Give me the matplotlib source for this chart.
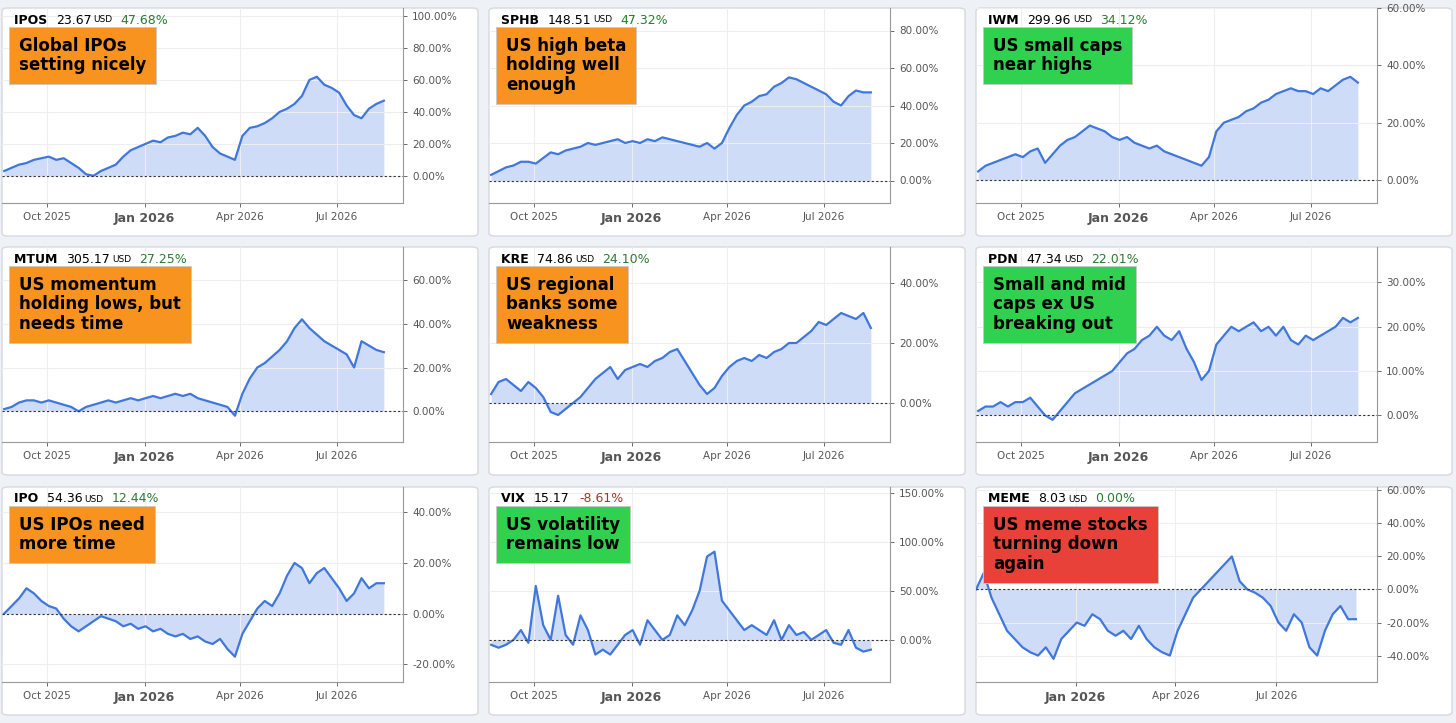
import numpy as np
import pandas as pd
import matplotlib
matplotlib.use("Agg")
import matplotlib.pyplot as plt
import matplotlib.dates as mdates
from matplotlib.patches import FancyBboxPatch

W, H = 1456, 723

tickers = ["IPOS", "SPHB", "IWM", "MTUM", "KRE", "PDN", "IPO", "VIX", "MEME"]
prices = ["23.67", "148.51", "299.96", "305.17", "74.86", "47.34", "54.36", "15.17", "8.03"]
units = ["USD", "USD", "USD", "USD", "USD", "USD", "USD", "", "USD"]
changes = ["47.68%", "47.32%", "34.12%", "27.25%", "24.10%", "22.01%", "12.44%", "-8.61%", "0.00%"]
notes = ["Global IPOs\nsetting nicely", "US high beta\nholding well\nenough", "US small caps\nnear highs",
         "US momentum\nholding lows, but\nneeds time", "US regional\nbanks some\nweakness",
         "Small and mid\ncaps ex US\nbreaking out", "US IPOs need\nmore time", "US volatility\nremains low",
         "US meme stocks\nturning down\nagain"]
note_colors = ["#f7931e", "#f7931e", "#2fd14f", "#f7931e", "#f7931e", "#2fd14f", "#f7931e", "#2fd14f", "#e8413a"]
start_dates = ["2025-08-22"] * 8 + ["2025-10-03"]

series = [
    [3,5, 7,8,10,11, 12,10,11,8,5, 1,0,3,5, 7,12,16,18, 20,22,21,24,25, 27,26,30,25, 18,14,12,10,
     25,30,31,33, 36,40,42,45,50, 60,62,57,55, 52,44,38,36, 42,45,47],
    [3,5, 7,8,10,10, 9,12,15,14,16, 17,18,20,19, 20,21,22,20, 21,20,22,21,23, 22,21,20,19, 18,20,17,20,
     28,35,40,42, 45,46,50,52,55, 54,52,50,48, 46,42,40,45, 48,47,47],
    [3,5, 6,7,8,9, 8,10,11,6,9, 12,14,15,17, 19,18,17,15, 14,15,13,12,11, 12,10,9,8, 7,6,5,8,
     17,20,21,22, 24,25,27,28,30, 31,32,31,31, 30,32,31,33, 35,36,34],
    [1,2, 4,5,5,4, 5,4,3,2,0, 2,3,4,5, 4,5,6,5, 6,7,6,7,8, 7,8,6,5, 4,3,2,-2,
     8,15,20,22, 25,28,32,38,42, 38,35,32,30, 28,26,20,32, 30,28,27],
    [3,7, 8,6,4,7, 5,2,-3,-4,-2, 0,2,5,8, 10,12,8,11, 12,13,12,14,15, 17,18,14,10, 6,3,5,9,
     12,14,15,14, 16,15,17,18,20, 20,22,24,27, 26,28,30,29, 28,30,25],
    [1,2, 2,3,2,3, 3,4,2,0,-1, 1,3,5,6, 7,8,9,10, 12,14,15,17,18, 20,18,17,19, 15,12,8,10,
     16,18,20,19, 20,21,19,20,18, 20,17,16,18, 17,18,19,20, 22,21,22],
    [0,3, 6,10,8,5, 3,2,-2,-5,-7, -5,-3,-1,-2, -3,-5,-4,-6, -5,-7,-6,-8,-9, -8,-10,-9,-11, -12,-10,-14,-17,
     -8,-3,2,5, 3,8,15,20,18, 12,16,18,14, 10,5,8,14, 10,12,12],
    [-5,-8, -5,0,10,-3, 55,15,0,45,5, -5,25,10,-15, -10,-15,-5,5, 10,-5,20,10,0, 5,25,15,30, 50,85,90,40,
     30,20,10,15, 10,5,20,0,15, 5,8,0,5, 10,-3,-5,10, -8,-12,-10],
    [0,10,-5,-15,-25, -30,-35,-38,-40, -35,-42,-30,-25, -20,-22,-15,-18,-25, -28,-25,-30,-22, -30,-35,-38,-40,
     -25,-15,-5,0, 5,10,15,20,5, 0,-2,-5,-10, -20,-25,-15,-20, -35,-40,-25,-15, -10,-18,-18],
]
ylims = [(-17, 105), (-12, 92), (-8, 60), (-14, 75), (-13, 52), (-6, 38), (-27, 50), (-43, 156), (-56, 62)]
ysteps = [20, 20, 20, 20, 20, 10, 20, 50, 20]

fig = plt.figure(figsize=(W / 100, H / 100), dpi=100)
fig.patch.set_facecolor("#eef1f5")

col_x = [2, 489, 976]
row_y = [8, 247, 487]
pw, ph = 476, 228


def pct(v, p):
    return f"{abs(v) if abs(v) < 1e-9 else v:.2f}%"


for i in range(9):
    x0, y0 = col_x[i % 3], row_y[i // 3]
    fig.patches.append(FancyBboxPatch((x0 / W, 1 - (y0 + ph) / H), pw / W, ph / H,
                                      boxstyle="round,pad=0,rounding_size=0.004", transform=fig.transFigure,
                                      facecolor="white", edgecolor="#d5d9de", lw=1, zorder=-5))
    ax = fig.add_axes([x0 / W, 1 - (y0 + 195) / H, 401 / W, 195 / H])
    ax.set_facecolor("none")
    ax.set_zorder(1)
    dates = pd.date_range(start_dates[i], periods=len(series[i]), freq="7D")
    vals = np.array(series[i], dtype=float)
    ax.fill_between(dates, vals, 0, color="#cfdcf8", lw=0)
    ax.plot(dates, vals, color="#3f77dd", lw=1.6)
    ax.axhline(0, color="#333333", lw=0.8, ls=(0, (2, 2)))
    if i == 8:
        ax.set_xlim(pd.Timestamp("2025-10-03"), pd.Timestamp("2026-09-30"))
    else:
        ax.set_xlim(pd.Timestamp("2025-08-20"), pd.Timestamp("2026-09-01"))
    lo, hi = ylims[i]
    ax.set_ylim(lo, hi)
    st = ysteps[i]
    ax.set_yticks(np.arange(np.ceil(lo / st) * st, hi + 0.1, st))
    ax.yaxis.set_major_formatter(plt.FuncFormatter(pct))
    ax.yaxis.tick_right()
    ax.xaxis.set_major_locator(mdates.MonthLocator(bymonth=[1, 4, 7, 10]))
    ax.xaxis.set_major_formatter(mdates.DateFormatter("%b %Y"))
    ax.tick_params(labelsize=7.5, colors="#555555", length=3, width=0.6)
    fig.canvas.draw()
    for lab in ax.get_xticklabels():
        if lab.get_text().startswith("Jan"):
            lab.set_fontweight("bold")
            lab.set_fontsize(9)
    ax.grid(True, color="#eeeeee", lw=0.8)
    for s in ["top", "left"]:
        ax.spines[s].set_visible(False)
    for s in ["right", "bottom"]:
        ax.spines[s].set_color("#999999")
        ax.spines[s].set_linewidth(0.8)

    # header
    r = fig.canvas.get_renderer()
    fx, fy = (x0 + 12) / W, 1 - (y0 + 12) / H
    t = fig.text(fx, fy, tickers[i] + "  ", fontsize=9, fontweight="bold", va="center")
    bb = t.get_window_extent(r)
    t2 = fig.text(bb.x1 / W, fy, prices[i], fontsize=9, va="center")
    bb = t2.get_window_extent(r)
    xx = bb.x1 / W + 2 / W
    if units[i]:
        t3 = fig.text(xx, fy, units[i], fontsize=6.5, va="center")
        xx = t3.get_window_extent(r).x1 / W
    ccol = "#a3342c" if changes[i].startswith("-") else "#2b7a32"
    fig.text(xx + 8 / W, fy, changes[i], fontsize=9, color=ccol, va="center")

    # annotation box
    fig.text((x0 + 17) / W, 1 - (y0 + 29) / H, notes[i], fontsize=12, fontweight="bold", va="top",
             linespacing=1.1, zorder=10,
             bbox=dict(boxstyle="square,pad=0.6", facecolor=note_colors[i], edgecolor="#c8c8c8", lw=0.6))

fig.savefig("out.png", dpi=100, facecolor=fig.get_facecolor())
